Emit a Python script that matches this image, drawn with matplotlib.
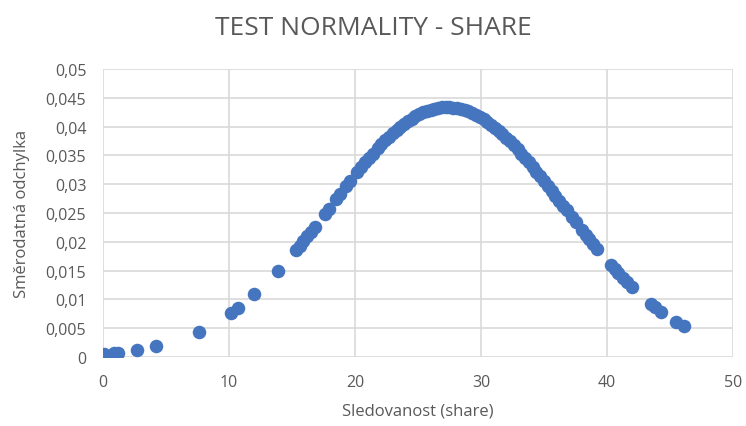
import matplotlib
matplotlib.use("Agg")
import matplotlib.pyplot as plt
from matplotlib.ticker import FuncFormatter, MultipleLocator

plt.rcParams['font.family'] = ['Open Sans', 'DejaVu Sans']

title = "TEST NORMALITY - SHARE"
x_label = "Sledovanost (share)"
y_label = "Směrodatná odchylka"

share = [0.1, 0.9, 1.2, 2.7, 4.2, 7.6, 10.2, 10.7, 12.0, 13.9, 15.3, 15.6, 15.9, 16.2,
         16.5, 16.8, 17.6, 17.9, 18.5, 18.8, 19.3, 19.6, 20.2, 20.5, 20.8, 21.1, 21.4,
         21.8, 22.1, 22.4, 22.7, 23.0, 23.3, 23.6, 23.9, 24.2, 24.5, 24.8, 25.1, 25.4,
         25.7, 26.0, 26.3, 26.6, 26.9, 27.2, 27.5, 27.8, 28.1, 28.4, 28.7, 29.0, 29.3,
         29.6, 29.9, 30.2, 30.5, 30.8, 31.1, 31.4, 31.7, 32.0, 32.3, 32.6, 32.9, 33.2,
         33.5, 33.8, 34.1, 34.4, 34.7, 35.0, 35.3, 35.6, 35.9, 36.2, 36.5, 36.8, 37.2,
         37.5, 38.0, 38.3, 38.6, 38.9, 39.2, 40.3, 40.6, 40.9, 41.3, 41.6, 42.0, 43.5,
         43.8, 44.3, 45.5, 46.1]
std_dev = [0.00055, 0.00071, 0.00078, 0.00121, 0.00186, 0.00438, 0.00771, 0.00851,
           0.01088, 0.01501, 0.01852, 0.01932, 0.02013, 0.02094, 0.02178, 0.02261,
           0.02488, 0.02573, 0.02745, 0.02830, 0.02972, 0.03055, 0.03220, 0.03300,
           0.03379, 0.03456, 0.03531, 0.03627, 0.03697, 0.03764, 0.03827, 0.03888,
           0.03946, 0.04000, 0.04051, 0.04098, 0.04141, 0.04180, 0.04215, 0.04246,
           0.04272, 0.04294, 0.04311, 0.04324, 0.04333, 0.04337, 0.04336, 0.04331,
           0.04321, 0.04306, 0.04287, 0.04264, 0.04236, 0.04204, 0.04167, 0.04127,
           0.04082, 0.04034, 0.03982, 0.03927, 0.03868, 0.03806, 0.03742, 0.03674,
           0.03604, 0.03531, 0.03456, 0.03379, 0.03300, 0.03220, 0.03138, 0.03055,
           0.02972, 0.02886, 0.02801, 0.02714, 0.02630, 0.02545, 0.02433, 0.02348,
           0.02207, 0.02125, 0.02043, 0.01960, 0.01880, 0.01597, 0.01525, 0.01454,
           0.01363, 0.01296, 0.01210, 0.00920, 0.00868, 0.00786, 0.00613, 0.00538]

fig = plt.figure(figsize=(7.46, 4.27), dpi=100)
ax = fig.add_axes([0.138, 0.1616, 0.8446, 0.6744])

ax.scatter(share, std_dev, s=95, color='#4675BF', zorder=3, linewidths=0)

ax.set_xlim(0, 50)
ax.set_ylim(0, 0.05)
ax.xaxis.set_major_locator(MultipleLocator(10))
ax.yaxis.set_major_locator(MultipleLocator(0.005))

def fmt(v, pos):
    s = ('%.3f' % v).rstrip('0').rstrip('.')
    if s == '':
        s = '0'
    return s.replace('.', ',')

ax.yaxis.set_major_formatter(FuncFormatter(fmt))
ax.xaxis.set_major_formatter(FuncFormatter(lambda v, p: '%d' % v))

ax.grid(True, color='#d9d9d9', linewidth=1.2, zorder=0)
for sp in ax.spines.values():
    sp.set_visible(False)
ax.tick_params(length=0, labelsize=11.5, colors='#595959')
ax.tick_params(axis='y', pad=12)
ax.tick_params(axis='x', pad=12)

ax.set_xlabel(x_label, fontsize=12, color='#595959', labelpad=9)
ax.set_ylabel(y_label, fontsize=12, color='#595959', labelpad=11)
fig.suptitle(title, fontsize=19, color='#595959', y=0.962)

fig.savefig('out.png', dpi=100)
